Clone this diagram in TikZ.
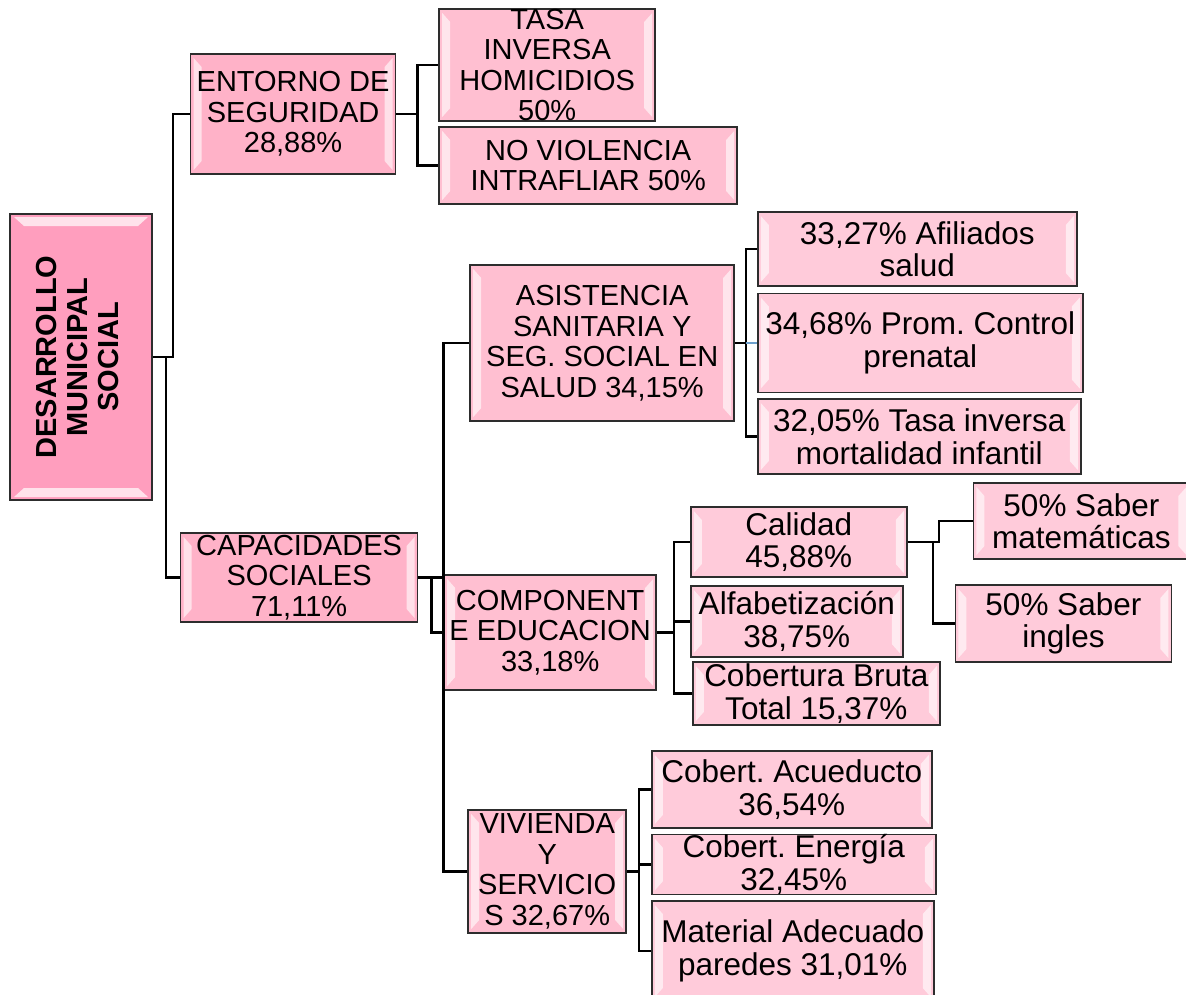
\documentclass[tikz,border=0pt]{standalone}
\usepackage{fontspec}
\setmainfont{Liberation Sans}
\usepackage{graphicx}
\usepackage{tikz}
\usetikzlibrary{positioning}
\frenchspacing

\definecolor{rootpink}{RGB}{255,158,190}
\definecolor{mainpink}{RGB}{255,178,200}
\definecolor{subpink}{RGB}{255,191,209}
\definecolor{leafpink}{RGB}{255,203,218}
\definecolor{edgegray}{RGB}{45,45,45}
\definecolor{linkblue}{RGB}{110,160,205}

\newcommand{\bigtxt}{\fontsize{29pt}{30.5pt}\selectfont}
\newcommand{\leaftxt}{\fontsize{31.5pt}{32.5pt}\selectfont}

\begin{document}
\begin{tikzpicture}[x=1pt,y=-1pt]
  \tikzstyle{bevelside}=[path picture={
      \fill[white,opacity=0.6] ([shift={(3pt,-4pt)}]path picture bounding box.north west) -- ([shift={(11pt,-13pt)}]path picture bounding box.north west)
        -- ([shift={(11pt,13pt)}]path picture bounding box.south west) -- ([shift={(3pt,4pt)}]path picture bounding box.south west) -- cycle;
      \fill[white,opacity=0.6] ([shift={(-3pt,-4pt)}]path picture bounding box.north east) -- ([shift={(-11pt,-13pt)}]path picture bounding box.north east)
        -- ([shift={(-11pt,13pt)}]path picture bounding box.south east) -- ([shift={(-3pt,4pt)}]path picture bounding box.south east) -- cycle;}]
  \tikzstyle{beveltop}=[path picture={
      \fill[white,opacity=0.7] ([shift={(4pt,-3pt)}]path picture bounding box.north west) -- ([shift={(-4pt,-3pt)}]path picture bounding box.north east)
        -- ([shift={(-14pt,-12pt)}]path picture bounding box.north east) -- ([shift={(14pt,-12pt)}]path picture bounding box.north west) -- cycle;
      \fill[white,opacity=0.7] ([shift={(4pt,3pt)}]path picture bounding box.south west) -- ([shift={(-4pt,3pt)}]path picture bounding box.south east)
        -- ([shift={(-14pt,12pt)}]path picture bounding box.south east) -- ([shift={(14pt,12pt)}]path picture bounding box.south west) -- cycle;}]
  \tikzstyle{rootbox}=[rectangle, draw=edgegray, line width=1.6pt, fill=rootpink, inner sep=0pt, beveltop, font=\bfseries\fontsize{29pt}{31pt}\selectfont]
  \tikzstyle{mainbox}=[rectangle, draw=edgegray, line width=1.6pt, fill=mainpink, inner sep=0pt, align=center, bevelside, font=\bigtxt]
  \tikzstyle{subbox}=[mainbox, fill=subpink]
  \tikzstyle{leafbox}=[mainbox, fill=leafpink, font=\leaftxt]
  \tikzstyle{connect}=[line width=2.2pt, black]
  \useasboundingbox (0,0) rectangle (1186,994);
    \node[rootbox, minimum width=142pt, minimum height=286pt] (dms) at (81,357)
      {\rotatebox{90}{\begin{tabular}{@{}c@{}}DESARROLLO\\MUNICIPAL\\SOCIAL\end{tabular}}};
    % first level
    \node[mainbox, minimum width=205pt, minimum height=120pt] (entorno) [right=37pt of dms, yshift=243pt] {ENTORNO DE\\SEGURIDAD\\28,88\%};
    \node[mainbox, minimum width=237pt, minimum height=89pt] (capac) [right=27pt of dms, yshift=-220.5pt] {CAPACIDADES\\SOCIALES\\71,11\%};
    % second level
    \node[subbox, minimum width=216pt, minimum height=110pt] (tasa) [right=42pt of entorno, yshift=49pt] {TASA\\INVERSA\\HOMICIDIOS\\50\%};
    \node[subbox, minimum width=298pt, minimum height=77pt] (noviol) [right=42pt of entorno, yshift=-51.5pt] {NO VIOLENCIA\\INTRAFLIAR 50\%};
    \node[subbox, minimum width=264pt, minimum height=156pt] (asist) [right=51pt of capac, yshift=234.5pt] {ASISTENCIA\\SANITARIA Y\\SEG. SOCIAL EN\\SALUD 34,15\%};
    \node[subbox, minimum width=212pt, minimum height=115pt] (comp) [right=25pt of capac, yshift=-55pt] {COMPONENT\\E EDUCACION\\33,18\%};
    \node[subbox, minimum width=158pt, minimum height=123pt] (viv) [right=49pt of capac, yshift=-294pt] {VIVIENDA\\Y\\SERVICIO\\S 32,67\%};
    % health
    \node[leafbox, minimum width=319pt, minimum height=74pt] (afil) [right=22pt of asist, yshift=94pt] {33,27\% Afiliados\\salud};
    \node[leafbox, minimum width=325pt, minimum height=99pt] (prom) [right=22pt of asist] {34,68\% Prom. Control\\prenatal};
    \node[leafbox, minimum width=323pt, minimum height=75pt] (mort) [right=22pt of asist, yshift=-93.5pt] {32,05\% Tasa inversa\\mortalidad infantil};
    % education
    \node[leafbox, minimum width=216pt, minimum height=70pt] (calid) [right=33pt of comp, yshift=90.5pt] {Calidad\\45,88\%};
    \node[leafbox, minimum width=212pt, minimum height=71pt] (alfab) [right=33pt of comp, yshift=11pt] {Alfabetización\\38,75\%};
    \node[leafbox, minimum width=247pt, minimum height=63pt] (cobert) [right=35pt of comp, yshift=-61pt] {Cobertura Bruta\\Total 15,37\%};
    \node[leafbox, minimum width=216pt, minimum height=76pt] (matem) [right=65pt of calid, yshift=21pt] {50\% Saber\\matemáticas};
    \node[leafbox, minimum width=216pt, minimum height=77pt] (ingles) [right=47pt of calid, yshift=-81.5pt] {50\% Saber\\ingles};
    % housing
    \node[leafbox, minimum width=280pt, minimum height=77pt] (acued) [right=24pt of viv, yshift=82pt] {Cobert. Acueducto\\36,54\%};
    \node[leafbox, minimum width=284pt, minimum height=57pt] (energ) [right=24pt of viv, yshift=7pt] {Cobert. Energía\\32,45\%};
    \node[leafbox, minimum width=282pt, minimum height=100pt] (mater) [right=24pt of viv, yshift=-79.5pt] {Material Adecuado\\paredes 31,01\%};

    \draw[connect] (dms.east) -- ++(20pt,0) |- (entorno.west);
    \draw[connect] (dms.east) -- ++(13pt,0) |- (capac.west);
    \draw[connect] (entorno.east) -- ++(21pt,0) |- (tasa.west);
    \draw[connect] (entorno.east) -- ++(21pt,0) |- (noviol.west);
    \draw[connect] (capac.east) -- ++(25pt,0) |- (asist.west);
    \draw[connect] (capac.east) -- ++(25pt,0) |- (viv.west);
    \draw[connect] (capac.east) -- ++(13pt,0) |- (comp.west);
    \draw[connect] (asist.east) -- ++(11pt,0) |- (afil.west);
    \draw[connect] (asist.east) -- ++(11pt,0) coordinate (promjoin) |- (mort.west);
    \draw[line width=1.5pt, linkblue] (promjoin) -- (prom.west);
    \draw[connect] (comp.east) -- ++(17pt,0) |- (calid.west);
    \draw[connect] (comp.east) -- ++(17pt,0) |- (alfab.west);
    \draw[connect] (comp.east) -- ++(17pt,0) |- (cobert.west);
    \draw[connect] (calid.east) -- ++(31pt,0) |- (matem.west);
    \draw[connect] (calid.east) -- ++(25pt,0) |- (ingles.west);
    \draw[connect] (viv.east) -- ++(12pt,0) |- (acued.west);
    \draw[connect] (viv.east) -- ++(12pt,0) |- (energ.west);
    \draw[connect] (viv.east) -- ++(12pt,0) |- (mater.west);
  \end{tikzpicture}
\end{document}
